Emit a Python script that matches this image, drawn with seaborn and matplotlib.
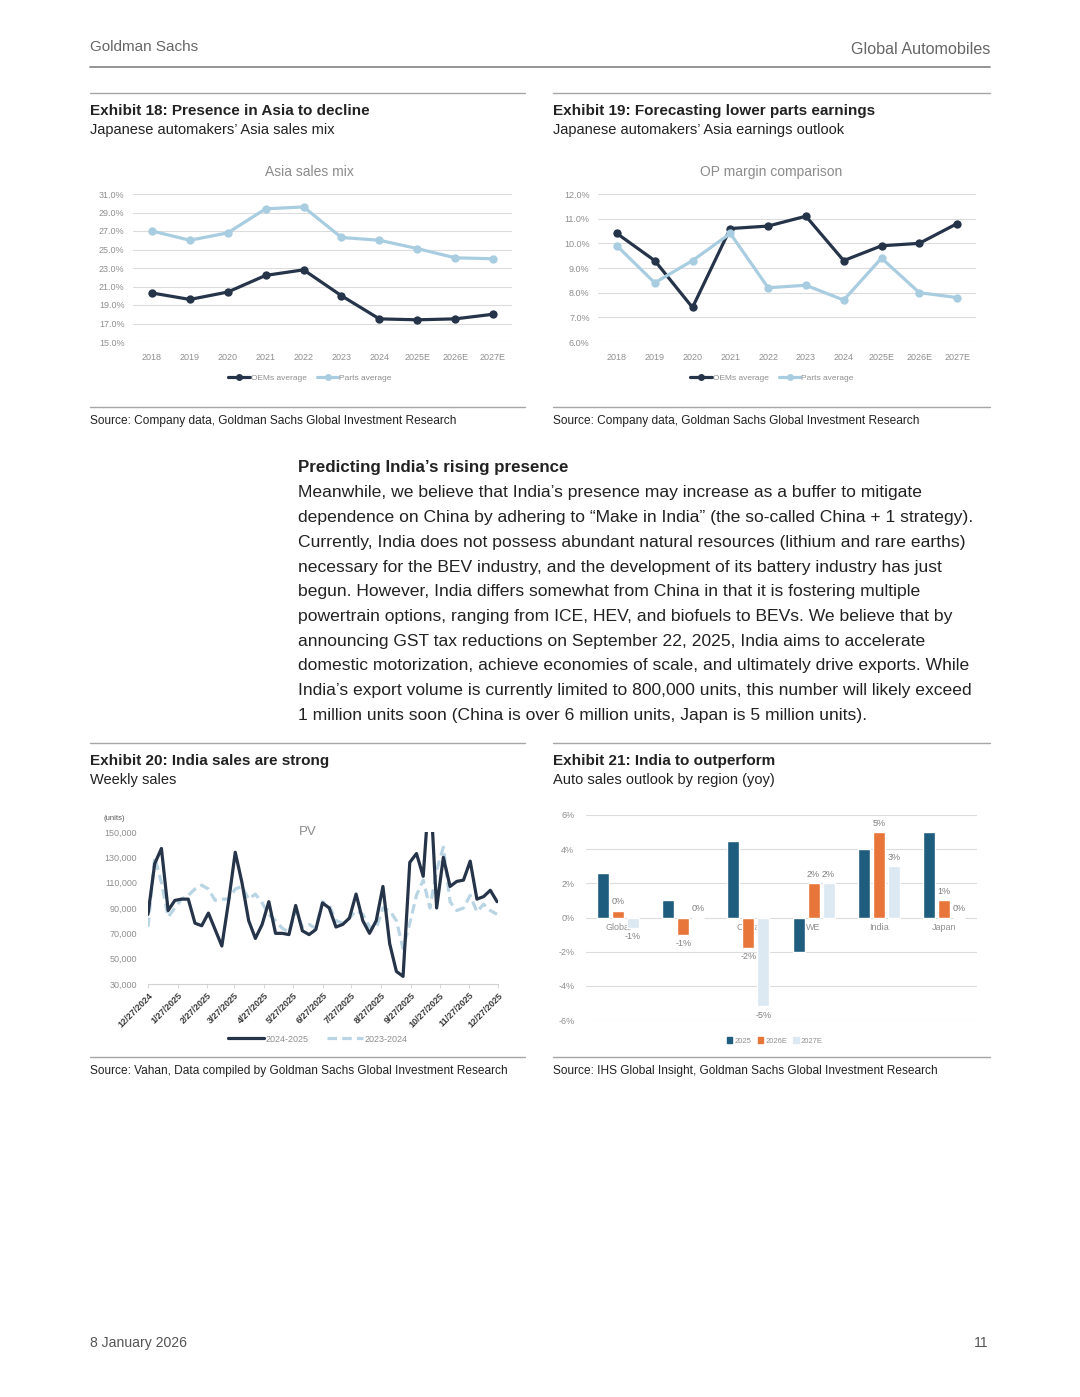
import numpy as np
import pandas as pd
import seaborn as sns
import matplotlib.pyplot as plt
from matplotlib.lines import Line2D
from matplotlib.patches import Patch
from matplotlib.ticker import FuncFormatter

# ---- data ----
years = ["2018", "2019", "2020", "2021", "2022", "2023", "2024", "2025E", "2026E", "2027E"]
asia_oems = [20.3, 19.6, 20.4, 22.2, 22.8, 20.0, 17.5, 17.4, 17.5, 18.0]
asia_parts = [27.0, 26.0, 26.8, 29.4, 29.6, 26.3, 26.0, 25.1, 24.1, 24.0]
op_oems = [10.4, 9.3, 7.4, 10.6, 10.7, 11.1, 9.3, 9.9, 10.0, 10.8]
op_parts = [9.9, 8.4, 9.3, 10.4, 8.2, 8.3, 7.7, 9.4, 8.0, 7.8]

pv_start = "2024-12-27"
pv_2425 = [85000, 125000, 137000, 88000, 96000, 97000, 97000, 78000, 76000, 86000,
           73000, 60000, 95000, 134000, 110000, 80000, 66000, 77000, 95000, 70000,
           70000, 69000, 92000, 72000, 69000, 73000, 94000, 90000, 75000, 77000,
           82000, 101000, 80000, 70000, 80000, 107000, 62000, 40000, 36000, 126000,
           133000, 115000, 190000, 90000, 130000, 107000, 111000, 112000, 127000, 97000,
           99000, 104000, 95000]
pv_2324 = [75000, 130000, 110000, 83000, 90000, 97000, 100000, 105000, 108000, 105000,
           96000, 97000, 97000, 105000, 107000, 97000, 101000, 94000, 85000, 80000,
           74000, 71000, 88000, 75000, 77000, 74000, 95000, 92000, 80000, 78000,
           82000, 88000, 85000, 75000, 74000, 90000, 88000, 80000, 58000, 78000,
           100000, 112000, 90000, 120000, 138000, 95000, 88000, 90000, 100000, 87000,
           93000, 88000, 85000]
pv_ticks = ["12/27/2024", "1/27/2025", "2/27/2025", "3/27/2025", "4/27/2025", "5/27/2025",
            "6/27/2025", "7/27/2025", "8/27/2025", "9/27/2025", "10/27/2025", "11/27/2025",
            "12/27/2025"]
pv_yticks = [30000, 50000, 70000, 90000, 110000, 130000, 150000]

regions = ["Global", "US", "China", "WE", "India", "Japan"]
yoy_2025 = [2.6, 1.0, 4.5, -2.0, 4.0, 5.0]
yoy_2026 = [0.4, -1.0, -1.8, 2.0, 5.0, 1.0]
yoy_2027 = [-0.6, 0.0, -5.2, 2.0, 3.0, 0.0]

body_lines = [
    "Meanwhile, we believe that India\u2019s presence may increase as a buffer to mitigate",
    "dependence on China by adhering to \u201cMake in India\u201d (the so-called China + 1 strategy).",
    "Currently, India does not possess abundant natural resources (lithium and rare earths)",
    "necessary for the BEV industry, and the development of its battery industry has just",
    "begun. However, India differs somewhat from China in that it is fostering multiple",
    "powertrain options, ranging from ICE, HEV, and biofuels to BEVs. We believe that by",
    "announcing GST tax reductions on September 22, 2025, India aims to accelerate",
    "domestic motorization, achieve economies of scale, and ultimately drive exports. While",
    "India\u2019s export volume is currently limited to 800,000 units, this number will likely exceed",
    "1 million units soon (China is over 6 million units, Japan is 5 million units).",
]

# ---- style ----
sns.set_theme(style="white")
plt.rcParams['font.family'] = ['Liberation Sans', 'DejaVu Sans']
plt.rcParams['axes.unicode_minus'] = False

DARK = "#253449"
LIGHT = "#a9cde0"
TICK = "#8f8f8f"
GRID = "#dcdcdc"
TXT = "#222222"
W, H = 1080, 1397

fig = plt.figure(figsize=(W / 100, H / 100), dpi=100)
fig.patch.set_facecolor("white")


def fx(x):
    return x / W


def fy(y):
    return 1 - y / H


def hline(x0, x1, y, color="#a6a6a6", lw=1.0):
    fig.add_artist(Line2D([fx(x0), fx(x1)], [fy(y), fy(y)], transform=fig.transFigure,
                          color=color, lw=lw))


def ftext(x, y, s, **kw):
    kw.setdefault("va", "center")
    kw.setdefault("color", TXT)
    fig.text(fx(x), fy(y), s, **kw)


# header / footer
ftext(90, 47, "Goldman Sachs", fontsize=11, color="#666666")
ftext(990, 50, "Global Automobiles", fontsize=11.6, color="#666666", ha="right")
hline(90, 990, 67, color="#8c8c8c", lw=1.3)
ftext(90, 1343, "8 January 2026", fontsize=10.1, color="#555555")
ftext(988, 1343, "11", fontsize=10.1, color="#555555", ha="right")

# exhibit headers
for x0, x1, ytop, title, sub, src in [
    (90, 525, 93, "Exhibit 18: Presence in Asia to decline", "Japanese automakers\u2019 Asia sales mix",
     "Source: Company data, Goldman Sachs Global Investment Research"),
    (553, 990, 93, "Exhibit 19: Forecasting lower parts earnings", "Japanese automakers\u2019 Asia earnings outlook",
     "Source: Company data, Goldman Sachs Global Investment Research"),
    (90, 525, 743, "Exhibit 20: India sales are strong", "Weekly sales",
     "Source: Vahan, Data compiled by Goldman Sachs Global Investment Research"),
    (553, 990, 743, "Exhibit 21: India to outperform", "Auto sales outlook by region (yoy)",
     "Source: IHS Global Insight, Goldman Sachs Global Investment Research"),
]:
    hline(x0, x1, ytop)
    ftext(x0, ytop + 18, title, fontsize=11, fontweight="bold")
    ftext(x0, ytop + 37, sub, fontsize=10.5)
    hline(x0, x1, ytop + 314)
    ftext(x0, ytop + 328, src, fontsize=8.6)

# body text
ftext(298, 468, "Predicting India\u2019s rising presence", fontsize=12.2, fontweight="bold")
for i, line in enumerate(body_lines):
    ftext(298, 493 + i * 24.68, line, fontsize=12.6)


# ---- Exhibit 18 & 19: line charts ----
def line_chart(rect, title, title_x, oems, parts, ylim, yticks, legend_x):
    ax = fig.add_axes(rect)
    df = pd.DataFrame({"year": years * 2, "value": oems + parts,
                       "series": ["OEMs average"] * len(years) + ["Parts average"] * len(years)})
    sns.lineplot(data=df, x="year", y="value", hue="series", sort=False,
                 palette={"OEMs average": DARK, "Parts average": LIGHT},
                 marker="o", markersize=6, markeredgewidth=0, linewidth=2.3,
                 legend=False, ax=ax)
    ax.set_xlim(-0.5, len(years) - 0.5)
    ax.set_ylim(*ylim)
    ax.set_yticks(yticks)
    ax.yaxis.set_major_formatter(FuncFormatter(lambda v, p: f"{v:.1f}%"))
    ax.grid(axis="y", color=GRID, lw=0.8)
    ax.set_axisbelow(True)
    for s in ax.spines.values():
        s.set_visible(False)
    ax.tick_params(axis="both", length=0, labelsize=6.5, labelcolor=TICK)
    ax.tick_params(axis="x", pad=8)
    ax.tick_params(axis="y", pad=6)
    ax.set_xlabel("")
    ax.set_ylabel("")
    ftext(title_x, 172, title, fontsize=10, color="#8c8c8c", ha="center")
    handles = [Line2D([], [], color=DARK, lw=2.3, marker="o", markersize=5, markeredgewidth=0),
               Line2D([], [], color=LIGHT, lw=2.3, marker="o", markersize=5, markeredgewidth=0)]
    fig.legend(handles, ["OEMs average", "Parts average"], loc="center",
               bbox_to_anchor=(fx(legend_x), fy(378)), ncol=2, frameon=False,
               fontsize=6, labelcolor=TICK, handlelength=2.6, handletextpad=0.1,
               columnspacing=1.2)
    return ax


line_chart([fx(133), fy(342), (512 - 133) / W, (342 - 194) / H], "Asia sales mix", 309,
           asia_oems, asia_parts, (15, 31), np.arange(15, 31.1, 2), 310)
line_chart([fx(598), fy(342), (976 - 598) / W, (342 - 194) / H], "OP margin comparison", 771,
           op_oems, op_parts, (6, 12), np.arange(6, 12.1, 1), 772)

# ---- Exhibit 20: weekly PV sales ----
ax20 = fig.add_axes([fx(148), fy(984), (498 - 148) / W, (984 - 832) / H])
dates = pd.date_range(pv_start, periods=len(pv_2425), freq="7D")
df20 = pd.DataFrame({"date": list(dates) * 2, "units": pv_2324 + pv_2425,
                     "season": ["2023-2024"] * len(dates) + ["2024-2025"] * len(dates)})
sns.lineplot(data=df20, x="date", y="units", hue="season", style="season",
             palette={"2024-2025": DARK, "2023-2024": "#b9d5e3"},
             dashes={"2024-2025": "", "2023-2024": (3, 1.6)}, linewidth=2.3,
             legend=False, ax=ax20)
tick_pos = pd.to_datetime(pv_ticks, format="%m/%d/%Y")
ax20.set_xlim(dates[0], tick_pos[-1])
ax20.set_ylim(pv_yticks[0], pv_yticks[-1])
ax20.set_yticks(pv_yticks)
ax20.yaxis.set_major_formatter(FuncFormatter(lambda v, p: f"{v:,.0f}"))
ax20.set_xticks(tick_pos)
ax20.set_xticklabels(pv_ticks, rotation=45, ha="right", rotation_mode="anchor",
                     fontsize=6.5, fontweight="bold", color="#3a3a3a")
for s in ["top", "right", "left"]:
    ax20.spines[s].set_visible(False)
ax20.spines["bottom"].set_color("#d0d0d0")
ax20.spines["bottom"].set_linewidth(0.8)
ax20.tick_params(axis="x", length=3, width=0.6, color="#d0d0d0", pad=2, bottom=True)
ax20.tick_params(axis="y", length=0, labelsize=6.5, labelcolor=TICK, pad=8)
ax20.set_xlabel("")
ax20.set_ylabel("")
ftext(308, 832, "PV", fontsize=9.5, color="#8c8c8c", ha="center")
ftext(103, 819, "(units)", fontsize=5.5, color="#555555")
h20 = [Line2D([], [], color=DARK, lw=2.3),
       Line2D([], [], color="#b9d5e3", lw=2.3, dashes=(3, 1.6))]
fig.legend(h20, ["2024-2025", "2023-2024"], loc="center", bbox_to_anchor=(fx(318), fy(1039)),
           ncol=2, frameon=False, fontsize=6.5, labelcolor=TICK, handlelength=4,
           handletextpad=0.2, columnspacing=2.0)

# ---- Exhibit 21: yoy bars ----
ax21 = fig.add_axes([fx(585.5), fy(1020), 391 / W, (1020 - 815) / H])
yr_labels = ["2025", "2026E", "2027E"]
bar_colors = {"2025": "#1f5d7e", "2026E": "#e8763a", "2027E": "#dce8f2"}
df21 = pd.DataFrame({"region": regions * 3, "yoy": yoy_2025 + yoy_2026 + yoy_2027,
                     "year": [y for y in yr_labels for _ in regions]})
sns.barplot(data=df21, x="region", y="yoy", hue="year", hue_order=yr_labels,
            palette=bar_colors, width=0.69, gap=0.2, errorbar=None, legend=False,
            saturation=1, ax=ax21)
ax21.set_xlim(-0.5, len(regions) - 0.5)
ax21.set_ylim(-6, 6)
ax21.set_yticks(np.arange(-6, 6.1, 2))
ax21.yaxis.set_major_formatter(FuncFormatter(lambda v, p: f"{v:.0f}%"))
ax21.grid(axis="y", color=GRID, lw=0.8)
ax21.set_axisbelow(True)
for s in ax21.spines.values():
    s.set_visible(False)
ax21.spines["bottom"].set_position(("data", 0))
ax21.tick_params(axis="x", length=0, labelsize=6.5, labelcolor=TICK, pad=4)
ax21.tick_params(axis="y", length=0, labelsize=6.5, labelcolor=TICK, pad=8)
ax21.set_xlabel("")
ax21.set_ylabel("")
for c in ax21.containers[1:]:
    ax21.bar_label(c, fmt="{:.0f}%", padding=3, fontsize=6.5, color="#7f7f7f")
h21 = [Patch(color=bar_colors[y]) for y in yr_labels]
fig.legend(h21, yr_labels, loc="center", bbox_to_anchor=(fx(775), fy(1041)), ncol=3,
           frameon=False, fontsize=5.5, labelcolor=TICK, handlelength=0.7, handleheight=0.7,
           handletextpad=0.3, columnspacing=0.8)

fig.savefig("out.png", dpi=100, facecolor="white")
